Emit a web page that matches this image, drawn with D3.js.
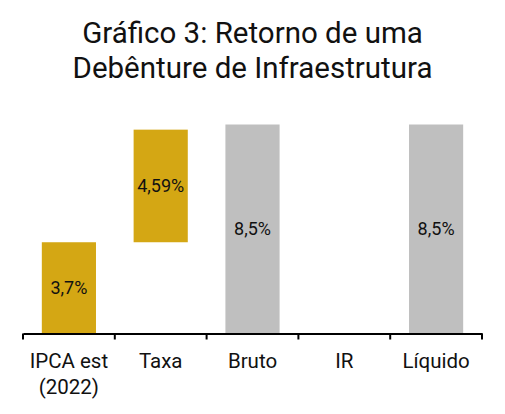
<!DOCTYPE html>
<html><head><meta charset="utf-8">
<script src="https://cdn.jsdelivr.net/npm/d3@7"></script>
<style>body{margin:0;background:#fff;} svg{display:block;font-family:Roboto, sans-serif;}</style>
</head><body><svg id="c" width="505" height="414"></svg>
<script>
const titleLines = ["Gráfico 3: Retorno de uma", "Debênture de Infraestrutura"];
const categories = ["IPCA est (2022)", "Taxa", "Bruto", "IR", "Líquido"];
const categoryLines = [["IPCA est", "(2022)"], ["Taxa"], ["Bruto"], ["IR"], ["Líquido"]];
const barStart = [0, 3.7, 0, 0, 0];
const barValue = [3.7, 4.59, 8.5, 0, 8.5];
const barLabels = ["3,7%", "4,59%", "8,5%", "", "8,5%"];
const barKinds = ["step", "step", "total", "step", "total"];

const svg = d3.select("#c");
const colors = {step: "#D4A714", total: "#BFBFBF"};

svg.append("g").selectAll("text").data(titleLines).join("text")
  .attr("x", 252.5).attr("y", (d, i) => 43 + i * 35)
  .attr("text-anchor", "middle").attr("font-size", 29.5).attr("fill", "#111")
  .text(d => d);

const x = d3.scaleBand().domain(categories).range([23, 482]).paddingInner(0).paddingOuter(0);
const y = d3.scaleLinear().domain([0, 8.5]).range([333, 124.5]);
const bw = x.bandwidth() * 0.59;

const data = categories.map((c, i) => ({c, s: barStart[i], v: barValue[i], l: barLabels[i], k: barKinds[i]}));

svg.append("g").selectAll("rect").data(data.filter(d => d.v > 0)).join("rect")
  .attr("x", d => x(d.c) + (x.bandwidth() - bw) / 2)
  .attr("width", bw)
  .attr("y", d => y(d.s + d.v))
  .attr("height", d => y(d.s) - y(d.s + d.v))
  .attr("fill", d => colors[d.k]);

svg.append("g").selectAll("text").data(data.filter(d => d.v > 0)).join("text")
  .attr("x", d => x(d.c) + x.bandwidth() / 2)
  .attr("y", d => (y(d.s) + y(d.s + d.v)) / 2)
  .attr("dy", "0.35em")
  .attr("text-anchor", "middle").attr("font-size", 18).attr("fill", "#111")
  .text(d => d.l);

// axis
const ax = svg.append("g").attr("transform", "translate(0,333.5)")
  .call(d3.axisBottom(x).tickSize(0).tickSizeOuter(0).tickFormat(""));
ax.select(".domain").attr("stroke", "#000").attr("stroke-width", 2);
ax.selectAll(".tick").remove();
const bounds = categories.map(c => x(c)).concat([x(categories[categories.length - 1]) + x.bandwidth()]);
ax.selectAll("line.b").data(bounds).join("line").attr("class", "b")
  .attr("x1", d => d).attr("x2", d => d).attr("y1", 0).attr("y2", 6)
  .attr("stroke", "#000").attr("stroke-width", 2);

const lab = svg.append("g").selectAll("text").data(categories).join("text")
  .attr("x", d => x(d) + x.bandwidth() / 2)
  .attr("y", 368)
  .attr("text-anchor", "middle").attr("font-size", 20.5).attr("fill", "#111");
lab.selectAll("tspan").data((d, i) => categoryLines[i]).join("tspan")
  .attr("x", function() { return this.parentNode.getAttribute("x"); })
  .attr("dy", (d, i) => i === 0 ? 0 : 26)
  .text(d => d);
</script></body></html>
